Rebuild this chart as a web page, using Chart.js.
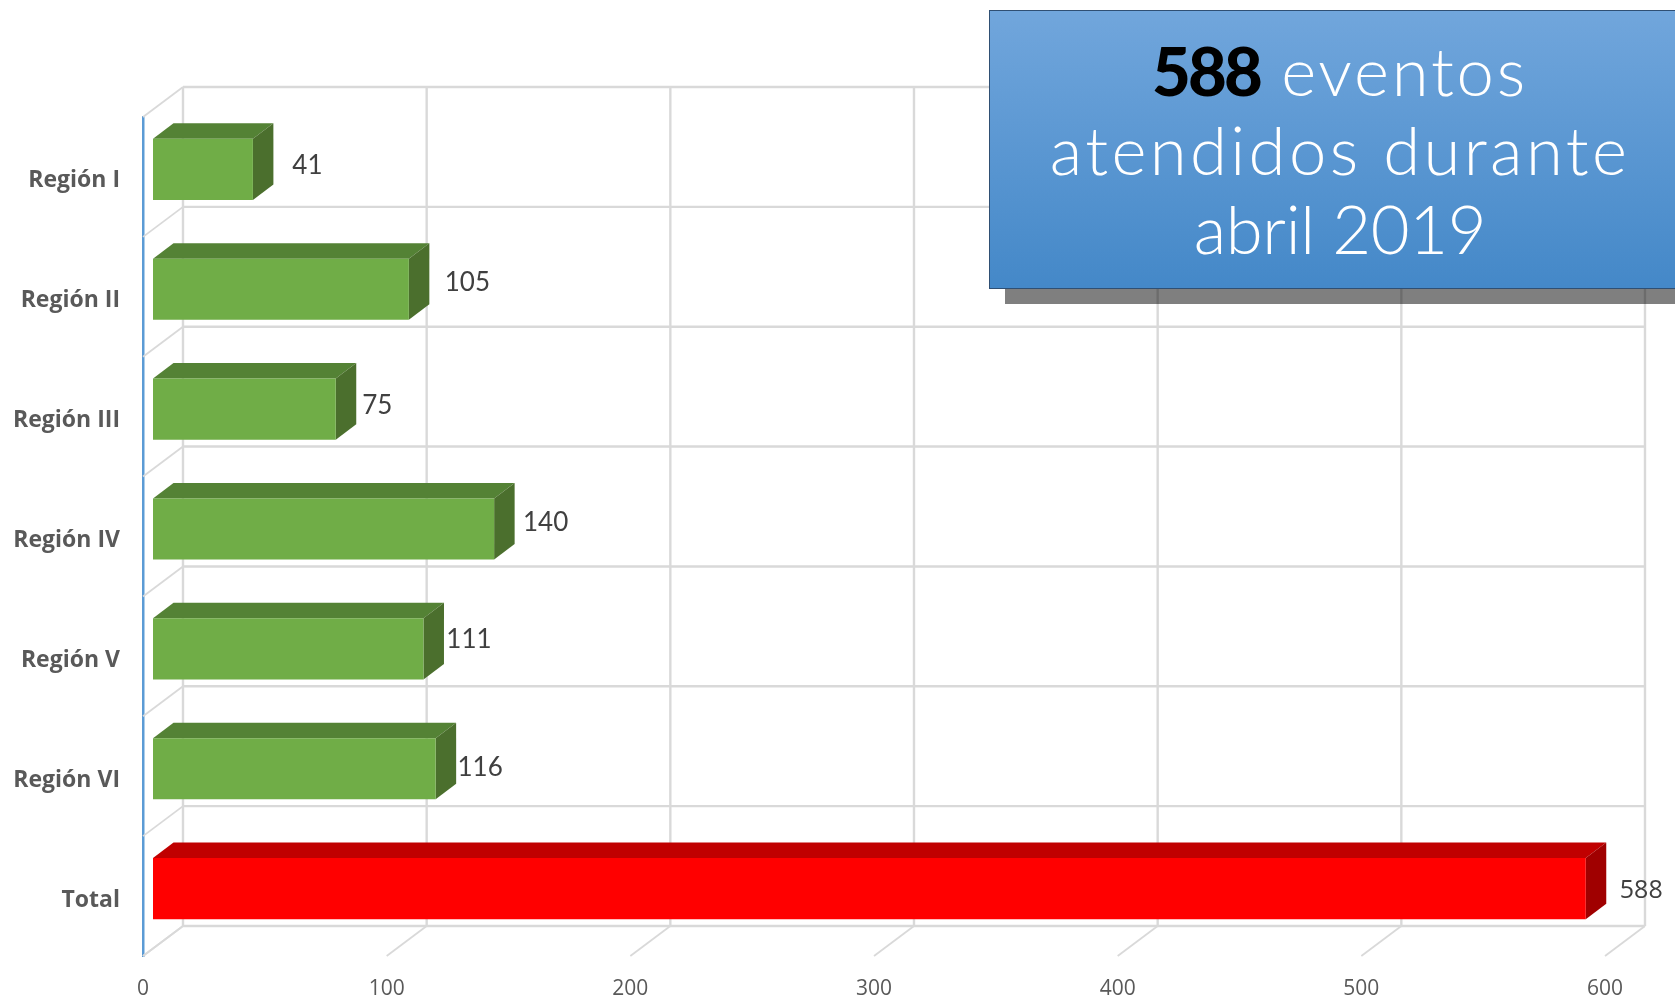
<!DOCTYPE html>
<html lang="es">
<head>
<meta charset="utf-8">
<title>588 eventos atendidos durante abril 2019</title>
<script src="https://cdn.jsdelivr.net/npm/chart.js@4"></script>
<style>
html,body{margin:0;padding:0;background:#fff;width:1675px;height:1000px;overflow:hidden}
#wrap{position:relative;width:1675px;height:1000px;overflow:hidden}
canvas{position:absolute;left:0;top:0}
#shadow{position:absolute;left:1005px;top:289px;width:700px;height:15px;background:rgba(0,0,0,.5)}
#box{position:absolute;left:989px;top:10px;width:700px;height:277px;border:1px solid #2f4f73;background:linear-gradient(#71a6dc,#4488c8)}
#box div{position:absolute;left:0;width:700px;text-align:center;font:300 67px Lato,sans-serif;color:#fff;white-space:nowrap;line-height:78px}
#box b{font-weight:900;color:#000;letter-spacing:-2.8px}
</style>
</head>
<body>
<div id="wrap">
<canvas id="c" width="1675" height="1000"></canvas>
<div id="shadow"></div>
<div id="box">
<div style="top:20px;letter-spacing:2.8px"><b>588</b> eventos</div>
<div style="top:99px;letter-spacing:3.4px">atendidos durante</div>
<div style="top:178px;letter-spacing:-0.4px">abril 2019</div>
</div>
</div>
<script>
const categories = ["Región I","Región II","Región III","Región IV","Región V","Región VI","Total"];
const eventos = [41,105,75,140,111,116,588];
const xTicks = [0,100,200,300,400,500,600];

// drawing styles and manual label nudges (not data)
const frontColors = ["#70ad47","#70ad47","#70ad47","#70ad47","#70ad47","#70ad47","#ff0000"];
const topColors   = ["#548235","#548235","#548235","#548235","#548235","#548235","#c00000"];
const sideColors  = ["#4b6f2d","#4b6f2d","#4b6f2d","#4b6f2d","#4b6f2d","#4b6f2d","#a00000"];
const labelDx = [34,38,21,31,25,24,35];
const labelDy = [-4,-7,-4,-6,-9,-1,2];
const GRID = "#d9d9d9";
const DEPTH_X = 40, DEPTH_Y = 30;      // box depth of the plot
const BAR_X = 10, BAR_Y = 7.5;         // bar front face inside that depth
const BAR_DX = 20.5, BAR_DY = 15.5;    // bar's own depth
const Y_LABEL_SHIFT = 4;

const box3d = {
  id:"box3d",
  beforeDraw(chart){
    if (chart.$labelsShifted) return;
    chart.$labelsShifted = true;
    chart.scales.y.getLabelItems().forEach(it=>{ it.options.translation[1] += Y_LABEL_SHIFT; });
  },
  beforeDatasetsDraw(chart){
    const {ctx,scales:{x,y}} = chart;
    const band = (y.bottom-y.top)/categories.length;
    ctx.save();
    ctx.strokeStyle = GRID;
    const backTop = y.top-DEPTH_Y, backBottom = y.bottom-DEPTH_Y;
    ctx.lineWidth = 2.4;
    xTicks.forEach(t=>{
      const px = x.getPixelForValue(t);
      ctx.beginPath();ctx.moveTo(px+DEPTH_X,backTop);ctx.lineTo(px+DEPTH_X,backBottom);ctx.stroke();
    });
    const ys = categories.map((_,i)=>y.getPixelForValue(i)-band/2).concat([y.bottom]);
    ys.forEach(py=>{
      ctx.beginPath();ctx.moveTo(x.left+DEPTH_X,py-DEPTH_Y);ctx.lineTo(x.right+DEPTH_X,py-DEPTH_Y);ctx.stroke();
    });
    ctx.lineWidth = 1.8;
    ys.forEach(py=>{
      ctx.beginPath();ctx.moveTo(x.left,py);ctx.lineTo(x.left+DEPTH_X,py-DEPTH_Y);ctx.stroke();
    });
    xTicks.forEach(t=>{
      const px = x.getPixelForValue(t);
      ctx.beginPath();ctx.moveTo(px,y.bottom);ctx.lineTo(px+DEPTH_X,y.bottom-DEPTH_Y);ctx.stroke();
    });
    ctx.restore();
  },
  beforeDatasetDraw(chart,args){
    const {ctx} = chart;
    ctx.save();
    ctx.translate(BAR_X,-BAR_Y);
    chart.getDatasetMeta(args.index).data.forEach((b,i)=>{
      const p = b.getProps(["x","y","base","height"],true);
      const t = p.y-p.height/2, u = p.y+p.height/2;
      ctx.fillStyle = topColors[i];
      ctx.beginPath();
      ctx.moveTo(p.base,t);ctx.lineTo(p.base+BAR_DX,t-BAR_DY);ctx.lineTo(p.x+BAR_DX,t-BAR_DY);ctx.lineTo(p.x,t);
      ctx.closePath();ctx.fill();
      ctx.fillStyle = sideColors[i];
      ctx.beginPath();
      ctx.moveTo(p.x,t);ctx.lineTo(p.x+BAR_DX,t-BAR_DY);ctx.lineTo(p.x+BAR_DX,u-BAR_DY);ctx.lineTo(p.x,u);
      ctx.closePath();ctx.fill();
    });
  },
  afterDatasetDraw(chart,args){
    const {ctx} = chart;
    ctx.restore();
    ctx.save();
    ctx.textAlign = "center";
    ctx.textBaseline = "middle";
    chart.getDatasetMeta(args.index).data.forEach((b,i)=>{
      const p = b.getProps(["x","y"],true);
      const last = i===eventos.length-1;
      ctx.font = last ? "25px 'Open Sans', sans-serif" : "26px Lato, sans-serif";
      ctx.fillStyle = "#404040";
      ctx.fillText(String(eventos[i]), p.x+BAR_X+BAR_DX+labelDx[i], p.y-BAR_Y+labelDy[i]);
    });
    ctx.restore();
  }
};

new Chart(document.getElementById("c"),{
  type:"bar",
  data:{labels:categories,datasets:[{
    data:eventos,
    backgroundColor:frontColors,
    borderWidth:0,
    barPercentage:0.51,
    categoryPercentage:1
  }]},
  plugins:[box3d],
  options:{
    indexAxis:"y",
    responsive:false,
    animation:false,
    layout:{padding:{top:117,right:70,left:0,bottom:0}},
    plugins:{legend:{display:false},tooltip:{enabled:false},title:{display:false}},
    scales:{
      x:{
        type:"linear",min:0,max:600,
        afterFit(s){s.height=44;},
        afterBuildTicks(s){s.ticks=xTicks.map(v=>({value:v}));},
        grid:{display:false,drawTicks:false},
        border:{display:false},
        ticks:{padding:20,maxRotation:0,color:"#595959",font:{family:"'Open Sans', sans-serif",size:21}}
      },
      y:{
        afterFit(s){s.width=143;},
        grid:{display:false,drawTicks:false},
        border:{display:true,color:"#5b9bd5",width:2.5},
        ticks:{padding:23,color:"#595959",font:{family:"'Open Sans', sans-serif",size:23,weight:"bold"}}
      }
    }
  }
});
</script>
</body>
</html>
